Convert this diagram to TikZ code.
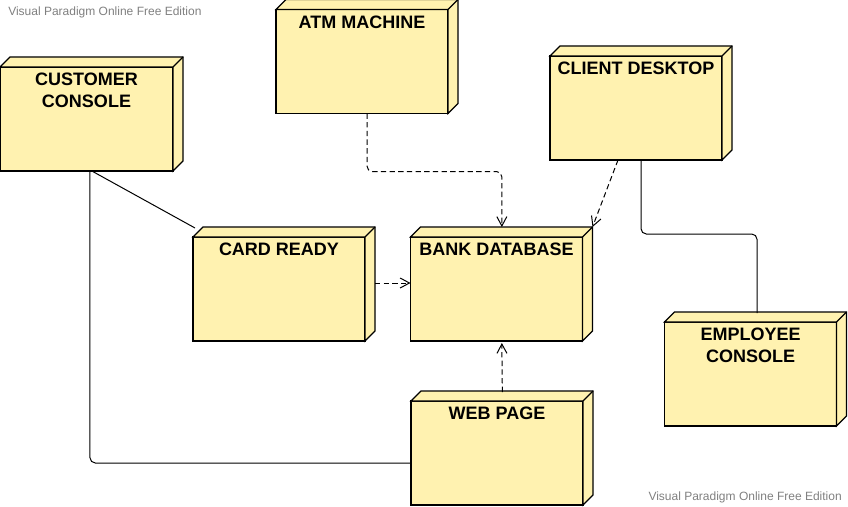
\documentclass[tikz,border=0pt]{standalone}
\usepackage{fontspec}
\setmainfont{Liberation Sans}
\usetikzlibrary{arrows.meta}

\begin{document}
\begin{tikzpicture}[x=0.75pt,y=0.75pt,yscale=-1,xscale=1,
  devnode/.style={draw, line width=0.9pt, fill={rgb, 255:red, 255; green, 242; blue, 176}, minimum width=129pt, minimum height=78pt, inner sep=0pt, outer sep=0pt},
  devtitle/.style={anchor=north, yshift=-4.5pt, inner sep=0pt, align=center, font=\fontsize{13.5}{16}\selectfont\bfseries},
  devface/.style={draw, line width=0.9pt, fill={rgb, 255:red, 255; green, 242; blue, 176}},
  link/.style={line width=0.75pt, rounded corners=4pt},
  dep/.style={link, dash pattern=on 4pt off 2.5pt, -{Straight Barb[length=7pt,width=7.5pt]}},
  watermark/.style={inner sep=0pt, text={rgb, 255:red, 128; green, 128; blue, 128}, font=\fontsize{9}{11}\selectfont}]
\useasboundingbox (0,0) rectangle (848,506);

% Nodes
\node[devnode, minimum width=129.75pt] (cust) at (86.5,119) {};
\node[devnode] (atm) at (362,61.5) {};
\node[devnode] (client) at (636,108) {};
\node[devnode] (card) at (279,289) {};
\node[devnode] (bank) at (496.5,289) {};
\node[devnode] (web) at (497,453) {};
\node[devnode] (emp) at (750.5,374) {};

% 3d faces
\foreach \n in {cust,atm,client,card,bank,web,emp}{
  \draw[devface] (\n.north west) -- ++(10,-10) -| ([xshift=7.5pt,yshift=-7.5pt]\n.south east) -- (\n.south east) -- (\n.north east) -- cycle;
  \draw[line width=0.9pt] (\n.north east) -- ++(10,-10);
}

% Titles
\node[devtitle] (cust-t) at (cust.north) {CUSTOMER\\CONSOLE};
\node[devtitle] (atm-t) at (atm.north) {ATM MACHINE};
\node[devtitle] (client-t) at (client.north) {CLIENT DESKTOP};
\node[devtitle] (card-t) at (card.north) {CARD READY};
\node[devtitle] (bank-t) at (bank.north) {BANK DATABASE};
\node[devtitle] (web-t) at (web.north) {WEB PAGE};
\node[devtitle] (emp-t) at (emp.north) {EMPLOYEE\\CONSOLE};

% Links
\draw[link] ([xshift=4pt]cust.south) -- ([xshift=1.5pt,yshift=-6.75pt]card.north west);
\draw[link] ([xshift=2.6pt]cust.south) |- ([yshift=7.5pt]web.west);
\draw[link] ([xshift=3.75pt]client.south) -- ++(0,74) -| ([xshift=4.9pt,yshift=-6.75pt]emp.north);

% Dependencies
\draw[dep] ([xshift=3.75pt]atm.south) -- ++(0,58) -| ([xshift=4pt,yshift=-7.5pt]bank.north);
\draw[dep] ([xshift=-13.5pt]client.south) -- ([xshift=7.5pt,yshift=-7.5pt]bank.north east);
\draw[dep] ([xshift=7.5pt,yshift=-4.5pt]card.east) -- ([yshift=-4.5pt]bank.west);
\draw[dep] ([xshift=4pt,yshift=-6.75pt]web.north) -- ([xshift=4pt,yshift=1.5pt]bank.south);

% Watermarks
\node[watermark, anchor=base west] (wm-top) at (8,16) {Visual Paradigm Online Free Edition};
\node[watermark, anchor=base east] (wm-bot) at (842,500) {Visual Paradigm Online Free Edition};

\end{tikzpicture}
\end{document}
